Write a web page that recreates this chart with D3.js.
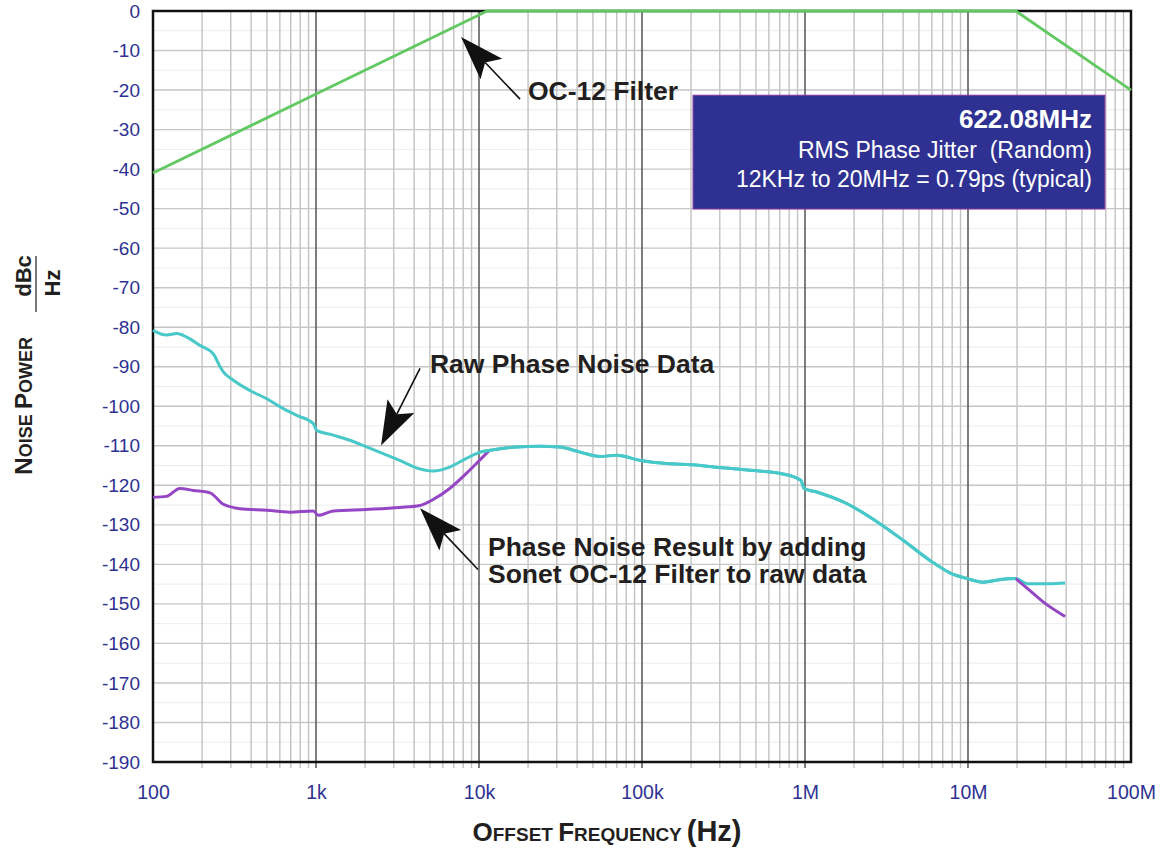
<!DOCTYPE html>
<html><head><meta charset="utf-8">
<script src="https://cdn.jsdelivr.net/npm/d3@7"></script>
<style>
html,body{margin:0;padding:0;background:#fff;}
svg{display:block;font-family:"Liberation Sans",Arial,Helvetica,sans-serif;}
text{white-space:pre;}
</style></head>
<body>
<svg id="chart" width="1164" height="849"></svg>
<script>
// ---- data ----
const xTickValues = [1e2, 1e3, 1e4, 1e5, 1e6, 1e7, 1e8];
const xTickLabels = ["100", "1k", "10k", "100k", "1M", "10M", "100M"];
const yTickValues = d3.range(0, -191, -10);

const rawNoise = [[100,-80.8],[121,-82.0],[140,-81.6],[161,-82.5],[194,-84.6],[234,-86.7],[258,-90.0],[270,-91.3],[311,-93.4],[393,-96.0],[499,-98.1],[630,-100.6],[761,-102.3],[962,-104.4],[1010,-106.1],[1277,-107.3],[1615,-108.6],[2043,-110.3],[2584,-112.0],[3268,-113.7],[4131,-115.6],[5226,-116.4],[6610,-115.4],[8360,-113.2],[10170,-111.6],[12260,-111.0],[16980,-110.3],[23500,-110.1],[31300,-110.3],[41700,-111.6],[55300,-112.7],[70000,-112.4],[97800,-113.7],[141000,-114.5],[204000,-114.8],[284000,-115.4],[460000,-116.2],[703000,-117.0],[942000,-118.7],[989000,-120.8],[1180000,-121.7],[1800000,-124.6],[2880000,-129.7],[4000000,-133.9],[5850000,-139.0],[7800000,-142.2],[9900000,-143.6],[12300000,-144.5],[15900000,-143.8],[19600000,-143.6],[23300000,-144.9],[31600000,-144.9],[39400000,-144.7]];

const filteredLow = [[100,-123.0],[121,-122.8],[146,-120.8],[177,-121.3],[224,-121.9],[270,-124.8],[342,-125.9],[499,-126.3],[692,-126.8],[962,-126.5],[1034,-127.6],[1277,-126.5],[2043,-126.1],[3268,-125.6],[4340,-125.1],[5226,-123.6],[6610,-120.8],[8360,-117.0],[10570,-112.8],[11500,-111.3]];
const filteredHigh = [[19600000,-143.6],[23300000,-146.2],[28900000,-149.5],[39400000,-153.2]];

const oc12Filter = [[100,-41],[1000,-21],[10000,-1],[11200,0],[19600000,0],[100000000,-20]];

// annotations: text anchor (freq, dB) and arrow tail/tip
const arrows = [
  {tail:[17860,-22.3], tip:[7760,-6.6]},
  {tail:[4347,-90.4], tip:[2506,-109.9]},
  {tail:[9860,-141.3], tip:[4347,-125.8]}
];
const labels = [
  {f:19950, db:-22.6, lines:["OC-12 Filter"]},
  {f:5003, db:-91.7, lines:["Raw Phase Noise Data"]},
  {f:11350, db:-137.8, lines:["Phase Noise Result by adding","Sonet OC-12 Filter to raw data"]}
];
const boxLines = ["622.08MHz", "RMS Phase Jitter  (Random)", "12KHz to 20MHz = 0.79ps (typical)"];

// ---- layout ----
const L = 153, R = 1131, T = 11, B = 762;
const svg = d3.select("#chart");
const x = d3.scaleLog().domain([1e2, 1e8]).range([L, R]);
const y = d3.scaleLinear().domain([0, -190]).range([T, B]);
const axisBlue = "#2e3192";
const ink = "#231f20";

// grid
const g = svg.append("g");
g.selectAll("line.h5").data(d3.range(-5, -190, -10)).join("line")
  .attr("x1", L).attr("x2", R).attr("y1", d => y(d)).attr("y2", d => y(d))
  .attr("stroke", "#ececec").attr("stroke-width", 1);
const minors = [];
for (let e = 2; e < 8; e++) for (let m = 2; m <= 9; m++) minors.push(m * Math.pow(10, e));
g.selectAll("line.vm").data(minors).join("line")
  .attr("x1", d => x(d)).attr("x2", d => x(d)).attr("y1", T).attr("y2", B + 6)
  .attr("stroke", "#c2c2c2").attr("stroke-width", 1.4);
g.selectAll("line.h").data(yTickValues).join("line")
  .attr("x1", L).attr("x2", R).attr("y1", d => y(d)).attr("y2", d => y(d))
  .attr("stroke", "#c6c6c6").attr("stroke-width", 1.4);
g.selectAll("line.vM").data(xTickValues.slice(1, -1)).join("line")
  .attr("x1", d => x(d)).attr("x2", d => x(d)).attr("y1", T).attr("y2", B + 6)
  .attr("stroke", "#5e5e5e").attr("stroke-width", 1.6);

// frame
svg.append("rect").attr("x", L).attr("y", T).attr("width", R - L).attr("height", B - T)
  .attr("fill", "none").attr("stroke", "#111").attr("stroke-width", 2.5);

// axes (labels only)
const yAxis = d3.axisLeft(y).tickValues(yTickValues).tickSize(0).tickPadding(13).tickFormat(d => String(d));
const ya = svg.append("g").attr("transform", `translate(${L},0)`).call(yAxis);
ya.select(".domain").remove();
ya.selectAll("text").attr("fill", axisBlue).attr("font-size", 19).attr("font-family", "Liberation Sans, Arial, sans-serif");

const xAxis = d3.axisBottom(x).tickValues(xTickValues).tickSize(0).tickPadding(23)
  .tickFormat((d, i) => xTickLabels[i]);
const xa = svg.append("g").attr("transform", `translate(0,${B})`).call(xAxis);
xa.select(".domain").remove();
xa.selectAll("text").attr("fill", axisBlue).attr("font-size", 19.5).attr("font-family", "Liberation Sans, Arial, sans-serif");

// lines
const line = d3.line().x(d => x(d[0])).y(d => y(d[1])).curve(d3.curveMonotoneX);
svg.append("path").datum(oc12Filter).attr("d", d3.line().x(d => x(d[0])).y(d => y(d[1])))
  .attr("fill", "none").attr("stroke", "#62c962").attr("stroke-width", 2.8);
svg.append("path").datum(rawNoise).attr("d", line)
  .attr("fill", "none").attr("stroke", "#48c8c8").attr("stroke-width", 3);
[filteredLow, filteredHigh].forEach(seg => {
  svg.append("path").datum(seg).attr("d", line)
    .attr("fill", "none").attr("stroke", "#9446c4").attr("stroke-width", 3);
});
svg.append("path").datum(rawNoise.filter(d => d[0] >= 10170 && d[0] <= 19600000)).attr("d", line)
  .attr("fill", "none").attr("stroke", "#48c8c8").attr("stroke-width", 3);

// arrows
arrows.forEach(a => {
  const x0 = x(a.tail[0]), y0 = y(a.tail[1]), x1 = x(a.tip[0]), y1 = y(a.tip[1]);
  const ang = Math.atan2(y1 - y0, x1 - x0);
  const len = 44, hw = 15, notch = 9;
  const bx = x1 - len * Math.cos(ang), by = y1 - len * Math.sin(ang);
  const nx = x1 - (len - notch) * Math.cos(ang), ny = y1 - (len - notch) * Math.sin(ang);
  const px = -Math.sin(ang), py = Math.cos(ang);
  svg.append("line").attr("x1", x0).attr("y1", y0).attr("x2", nx).attr("y2", ny)
    .attr("stroke", "#111").attr("stroke-width", 1.6);
  svg.append("path")
    .attr("d", `M${x1},${y1}L${bx + px * hw},${by + py * hw}L${nx},${ny}L${bx - px * hw},${by - py * hw}Z`)
    .attr("fill", "#111");
});

// labels
labels.forEach(l => {
  const t = svg.append("text").attr("x", x(l.f)).attr("y", y(l.db))
    .attr("font-size", 26.5).attr("font-weight", "bold").attr("fill", ink);
  l.lines.forEach((s, i) => t.append("tspan").attr("x", x(l.f)).attr("dy", i ? 27 : 0).text(s));
});

// info box
const bx0 = x(205600), bx1 = x(69200000), by0 = y(-21.3), by1 = y(-50.1);
svg.append("rect").attr("x", bx0).attr("y", by0).attr("width", bx1 - bx0).attr("height", by1 - by0)
  .attr("fill", "#2e3192").attr("stroke", "#8a3a9e").attr("stroke-width", 1);
svg.append("text").attr("x", bx1 - 13).attr("y", by0 + 33).attr("text-anchor", "end")
  .attr("fill", "#fff").attr("font-size", 26).attr("font-weight", "bold").text(boxLines[0]);
svg.append("text").attr("x", bx1 - 13).attr("y", by0 + 63).attr("text-anchor", "end")
  .attr("fill", "#fff").attr("font-size", 23).text(boxLines[1]);
svg.append("text").attr("x", bx1 - 13).attr("y", by0 + 92).attr("text-anchor", "end")
  .attr("fill", "#fff").attr("font-size", 23).text(boxLines[2]);

// axis titles (small caps)
function smallCaps(sel, parts, big, small) {
  parts.forEach(p => {
    sel.append("tspan").attr("font-size", big).text(p[0]);
    if (p[1]) sel.append("tspan").attr("font-size", small).text(p[1]);
  });
}
const xt = svg.append("text").attr("x", 607).attr("y", 841).attr("text-anchor", "middle")
  .attr("font-weight", "bold").attr("fill", ink);
smallCaps(xt, [["O", "FFSET "], ["F", "REQUENCY "]], 26, 19);
xt.append("tspan").attr("font-size", 29).text("(Hz)");

const yt = svg.append("text").attr("transform", "translate(32,406) rotate(-90)").attr("text-anchor", "middle")
  .attr("font-weight", "bold").attr("fill", ink);
smallCaps(yt, [["N", "OISE "], ["P", "OWER"]], 24.5, 18);

// dBc / Hz fraction
svg.append("text").attr("transform", "translate(31,276) rotate(-90)").attr("text-anchor", "middle")
  .attr("font-weight", "bold").attr("font-size", 22).attr("fill", ink).text("dBc");
svg.append("line").attr("x1", 36).attr("x2", 36).attr("y1", 256).attr("y2", 312)
  .attr("stroke", ink).attr("stroke-width", 1.2);
svg.append("text").attr("transform", "translate(60,283) rotate(-90)").attr("text-anchor", "middle")
  .attr("font-weight", "bold").attr("font-size", 22).attr("fill", ink).text("Hz");
</script>
</body></html>
